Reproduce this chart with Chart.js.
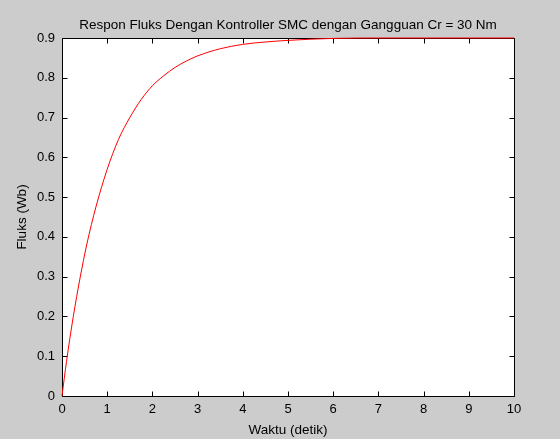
<!DOCTYPE html>
<html>
<head>
<meta charset="utf-8">
<title>Respon Fluks</title>
<script src="https://cdn.jsdelivr.net/npm/chart.js@4/dist/chart.umd.min.js"></script>
<style>
  html, body { margin: 0; padding: 0; background: #cccccc; }
  #wrap { width: 560px; height: 439px; }
</style>
</head>
<body>
<div id="wrap"><canvas id="c" width="560" height="439"></canvas></div>
<script>
// Flux response (Wb) over time (s)
const waktu = [0, 0.1, 0.25, 0.4, 0.55, 0.75, 1.0, 1.25, 1.5, 1.75, 2.0, 2.25, 2.5, 2.75, 3.0, 3.5, 4.0, 4.5, 5.0, 5.5, 6.0, 7, 8, 9, 10];
const fluks = [0, 0.087, 0.20, 0.297, 0.382, 0.475, 0.57, 0.645, 0.70, 0.745, 0.78, 0.805, 0.826, 0.842, 0.855, 0.873, 0.884, 0.890, 0.894, 0.897, 0.899, 0.9, 0.9, 0.9, 0.9];

const xTicks = [0, 1, 2, 3, 4, 5, 6, 7, 8, 9, 10];
const yTicks = [0, 0.1, 0.2, 0.3, 0.4, 0.5, 0.6, 0.7, 0.8, 0.9];
const yTickLabels = ['0', '0.1', '0.2', '0.3', '0.4', '0.5', '0.6', '0.7', '0.8', '0.9'];

const judul = 'Respon Fluks Dengan Kontroller SMC dengan Gangguan Cr = 30 Nm';
const labelX = 'Waktu (detik)';
const labelY = 'Fluks (Wb)';

const FONT = '"Liberation Sans", Arial, Helvetica, sans-serif';
const TICK_FONT = 13;
const LABEL_FONT = 13.5;
const TICK_LEN = 5;

// Figure background, white axes area, box with inward ticks and the title
const axesFrame = {
  id: 'axesFrame',
  beforeDraw(chart) {
    const { ctx, chartArea: a, width, height } = chart;
    ctx.save();
    ctx.fillStyle = '#cccccc';
    ctx.fillRect(0, 0, width, height);
    ctx.fillStyle = '#ffffff';
    ctx.fillRect(a.left, a.top, a.right - a.left, a.bottom - a.top);
    ctx.restore();
  },
  beforeDatasetsDraw(chart) {
    const { ctx, chartArea: a, scales } = chart;
    const L = Math.round(a.left) + 0.5, R = Math.round(a.right) + 0.5;
    const T = Math.round(a.top) + 0.5, B = Math.round(a.bottom) + 0.5;
    ctx.save();
    ctx.strokeStyle = '#000000';
    ctx.lineWidth = 1;
    ctx.beginPath();
    ctx.rect(L, T, R - L, B - T);
    // x ticks on bottom and top edges
    scales.x.ticks.forEach(t => {
      const px = Math.round(scales.x.getPixelForValue(t.value)) + 0.5;
      ctx.moveTo(px, B); ctx.lineTo(px, B - TICK_LEN);
      ctx.moveTo(px, T); ctx.lineTo(px, T + TICK_LEN);
    });
    // y ticks on left and right edges
    scales.y.ticks.forEach(t => {
      const py = Math.round(scales.y.getPixelForValue(t.value)) + 0.5;
      ctx.moveTo(L, py); ctx.lineTo(L + TICK_LEN, py);
      ctx.moveTo(R, py); ctx.lineTo(R - TICK_LEN, py);
    });
    ctx.stroke();

    ctx.fillStyle = '#000000';
    ctx.font = LABEL_FONT + 'px ' + FONT;
    ctx.textAlign = 'center';
    ctx.textBaseline = 'middle';
    ctx.fillText(judul, (a.left + a.right) / 2, 25);
    ctx.restore();
  }
};

new Chart(document.getElementById('c'), {
  type: 'line',
  data: {
    datasets: [{
      data: waktu.map((t, i) => ({ x: t, y: fluks[i] })),
      borderColor: '#ff0000',
      borderWidth: 1,
      pointRadius: 0,
      cubicInterpolationMode: 'monotone',
      fill: false,
      clip: 2
    }]
  },
  options: {
    responsive: false,
    animation: false,
    devicePixelRatio: 1,
    layout: { padding: { left: 0, top: 38, right: 46, bottom: 0 } },
    plugins: {
      legend: { display: false },
      tooltip: { enabled: false },
      title: { display: false }
    },
    scales: {
      x: {
        type: 'linear',
        min: 0, max: 10,
        afterBuildTicks(s) { s.ticks = xTicks.map(v => ({ value: v })); },
        afterFit(s) { s.height = 43; },
        grid: { display: false, drawTicks: false },
        border: { display: false },
        ticks: {
          padding: 6,
          color: '#000000',
          font: { family: FONT, size: TICK_FONT },
          maxRotation: 0,
          autoSkip: false,
          callback: v => String(v)
        },
        title: {
          display: true,
          text: labelX,
          color: '#000000',
          font: { family: FONT, size: LABEL_FONT },
          padding: { top: 0, bottom: 1 }
        }
      },
      y: {
        type: 'linear',
        min: 0, max: 0.9,
        afterBuildTicks(s) { s.ticks = yTicks.map(v => ({ value: v })); },
        afterFit(s) { s.width = 62; },
        grid: { display: false, drawTicks: false },
        border: { display: false },
        ticks: {
          padding: 7,
          color: '#000000',
          font: { family: FONT, size: TICK_FONT },
          autoSkip: false,
          callback: (v) => {
            const i = yTicks.findIndex(t => Math.abs(t - v) < 1e-9);
            return i >= 0 ? yTickLabels[i] : '';
          }
        },
        title: {
          display: true,
          text: labelY,
          color: '#000000',
          font: { family: FONT, size: LABEL_FONT },
          padding: { top: 14, bottom: 0 }
        }
      }
    }
  },
  plugins: [axesFrame]
});
</script>
</body>
</html>
